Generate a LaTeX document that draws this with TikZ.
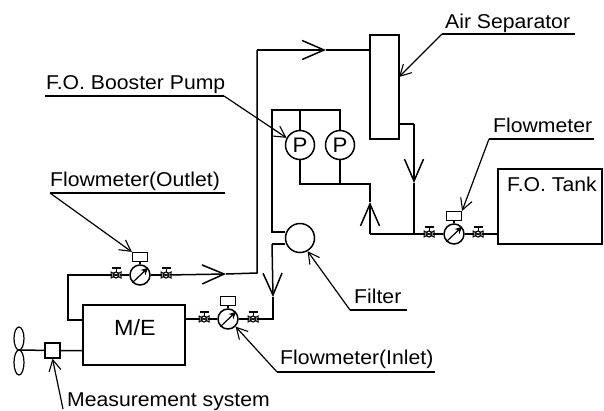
\documentclass[tikz,border=0pt]{standalone}
\usepackage{fontspec}
\setmainfont[FakeStretch=1.06]{Liberation Sans}
\usepackage{tikz}
\usetikzlibrary{arrows.meta}

\tikzset{
  pipe/.style={black, line width=1.5},
  flow/.style={black, line width=1.5, -{Straight Barb[length=22, width=19, line width=1.5]}},
  leader/.style={black, line width=1.2, -{Straight Barb[length=11, width=12, line width=1.1]}},
  underline/.style={black, line width=1.1},
  label/.style={anchor=base west, inner sep=0, font=\fontsize{20}{20}\selectfont},
  equip/.style={draw, line width=1.5, inner sep=0, font=\fontsize{21}{21}\selectfont},
  round/.style={equip, circle, minimum size=29},
  meter/.style={draw, circle, line width=1.5, inner sep=0, minimum size=20},
  meterhead/.style={draw, line width=1.2, inner sep=0, minimum width=15, minimum height=9},
  valve/.style={draw, circle, line width=1.1, inner sep=0, minimum size=6}
}

\begin{document}
\begin{tikzpicture}[x=1pt, y=-1pt]

  \useasboundingbox (0, 0) rectangle (604, 410);

  % equipment
  \node[equip, minimum width=102, minimum height=60] (engine) at (134, 335) {};
  \node[inner sep=0, anchor=base west, font=\fontsize{22}{22}\selectfont] (engineText) at (114, 335) {M/E};
  \node[equip, minimum width=104, minimum height=75] (tank) at (550, 206.5) {};
  \node[label] (tankText) at (507, 191) {F.O. Tank};
  \node[equip, minimum width=29, minimum height=104] (separator) at (384.5, 87) {};
  \node[round] (pumpA) at (300, 145) {P};
  \node[round] (pumpB) at (340, 145) {P};
  \node[round] (filter) at (300, 238) {};
  \node[draw, line width=1.5, inner sep=0, minimum size=15] (sensor) at (52.5, 350.5) {};

  \foreach \name/\x/\y in { meterOut/140/275, meterIn/228/319, meterTank/454/234 } {
    \node[meter] (\name) at (\x, \y) {};
    \node[meterhead] (\name Head) at (\x, \y-18) {};
    \draw[line width=1.2] (\name) -- (\name Head);
    \draw[line width=1.2, -{Stealth[length=7, width=7]}] (\name.225) -- (\name.42);
  }

  \foreach \name/\x/\y in { valveOutA/116/275, valveOutB/166/275, valveInA/204/319,
                            valveInB/253/319, valveTankA/429/234, valveTankB/478/234 } {
    \node[valve] (\name) at (\x, \y) {};
    \draw[line width=1] (\x-5, \y-3) -- (\x+5, \y+3) -- (\x+5, \y-3) -- (\x-5, \y+3) -- cycle;
    \draw[line width=0.9] (\x, \y-3) -- (\x, \y-7);
    \draw[line width=1.1] (\x-4.5, \y-7) -- (\x+4.5, \y-7);
  }

  % engine outlet to separator
  \coordinate (outletA) at (83, 320);
  \coordinate (outletB) at (68, 320);
  \coordinate (outletC) at (68, 275);
  \coordinate (outletTip) at (226, 274);
  \coordinate (outletD) at (257, 273);
  \coordinate (outletE) at (257, 50);
  \coordinate (outletTop) at (326, 50);
  \coordinate (outletF) at (370, 50);
  \draw[pipe] (outletA) -- (outletB) -- (outletC) -- (valveOutA) -- (meterOut) -- (valveOutB);
  \draw[flow] (valveOutB) -- (outletTip);
  \draw[pipe] (outletTip) -- (outletD) -- (outletE);
  \draw[flow] (outletE) -- (outletTop);
  \draw[pipe] (outletTop) -- (outletF);

  % separator to pumps and tank line
  \coordinate (sepA) at (399, 124);
  \coordinate (sepB) at (414, 124);
  \coordinate (sepTip) at (414, 183);
  \coordinate (sepC) at (414, 234);
  \draw[pipe] (sepA) -- (sepB);
  \draw[flow] (sepB) -- (sepTip);
  \draw[pipe] (sepTip) -- (sepC);

  \coordinate (suctionA) at (370, 234);
  \coordinate (suctionTip) at (370, 202);
  \coordinate (suctionB) at (370, 184);
  \coordinate (suctionC) at (300, 184);
  \coordinate (suctionD) at (340, 184);
  \draw[flow] (suctionA) -- (suctionTip);
  \draw[pipe] (suctionTip) -- (suctionB) -- (suctionC) -- (pumpA);
  \draw[pipe] (suctionD) -- (pumpB);
  \draw[pipe] (tank.west |- valveTankB) -- (valveTankB) -- (meterTank) -- (valveTankA) -- (suctionA);

  % pumps to filter and engine inlet
  \coordinate (dischargeA) at (272, 110);
  \coordinate (dischargeB) at (300, 110);
  \coordinate (dischargeC) at (340, 110);
  \coordinate (filterA) at (272, 232);
  \coordinate (filterB) at (272, 244);
  \coordinate (inletTip) at (273, 297);
  \coordinate (inletC) at (273, 319);
  \draw[pipe] (pumpB) -- (dischargeC) -- (dischargeA) -- (filterA) -- (filter.west |- filterA);
  \draw[pipe] (pumpA) -- (dischargeB);
  \draw[pipe] (filter.west |- filterB) -- (filterB);
  \draw[flow] (filterB) -- (inletTip);
  \draw[pipe] (inletTip) -- (inletC) -- (valveInB) -- (meterIn) -- (valveInA) -- (engine.east |- valveInA);

  % propeller shaft
  \coordinate (hub) at (19, 350);
  \draw[pipe] (engine.west |- sensor) -- (sensor) -- (hub);
  \draw[line width=1.2] (19, 338.5) ellipse (5 and 11.5);
  \draw[line width=1.2] (19, 362.5) ellipse (5 and 12.5);

  % labels
  \node[label] (pumpText) at (46, 89) {F.O. Booster Pump};
  \coordinate (pumpLineA) at (45, 96);
  \coordinate (pumpLineB) at (224, 96);
  \draw[underline] (pumpLineA) -- (pumpLineB);
  \draw[leader] (pumpLineB) -- (pumpA.152);

  \node[label] (outletText) at (50, 186) {Flowmeter(Outlet)};
  \coordinate (outletLineA) at (50, 193);
  \coordinate (outletLineB) at (225, 193);
  \draw[underline] (outletLineB) -- (outletLineA);
  \draw[leader] (outletLineA) -- (meterOutHead.north west);

  \node[label] (separatorText) at (445, 28) {Air Separator};
  \coordinate (separatorLineA) at (442, 34);
  \coordinate (separatorLineB) at (575, 34);
  \coordinate (separatorTip) at (399, 77);
  \draw[underline] (separatorLineB) -- (separatorLineA);
  \draw[leader] (separatorLineA) -- (separatorTip);

  \node[label] (tankMeterText) at (493, 132) {Flowmeter};
  \coordinate (tankMeterLineA) at (489, 139);
  \coordinate (tankMeterLineB) at (594, 139);
  \draw[underline] (tankMeterLineB) -- (tankMeterLineA);
  \draw[leader] (tankMeterLineA) -- (meterTankHead.north east);

  \node[label] (filterText) at (354, 303) {Filter};
  \coordinate (filterLineA) at (350, 310);
  \coordinate (filterLineB) at (407, 310);
  \draw[underline] (filterLineB) -- (filterLineA);
  \draw[leader] (filterLineA) -- (filter.300);

  \node[label] (inletText) at (280, 364) {Flowmeter(Inlet)};
  \coordinate (inletLineA) at (277, 372);
  \coordinate (inletLineB) at (435, 372);
  \draw[underline] (inletLineB) -- (inletLineA);
  \draw[leader] (inletLineA) -- (meterIn.315);

  \node[label] (sensorText) at (67, 406) {Measurement system};
  \coordinate (sensorLine) at (63, 409);
  \draw[leader] (sensorLine) -- (sensor.south);

\end{tikzpicture}
\end{document}
